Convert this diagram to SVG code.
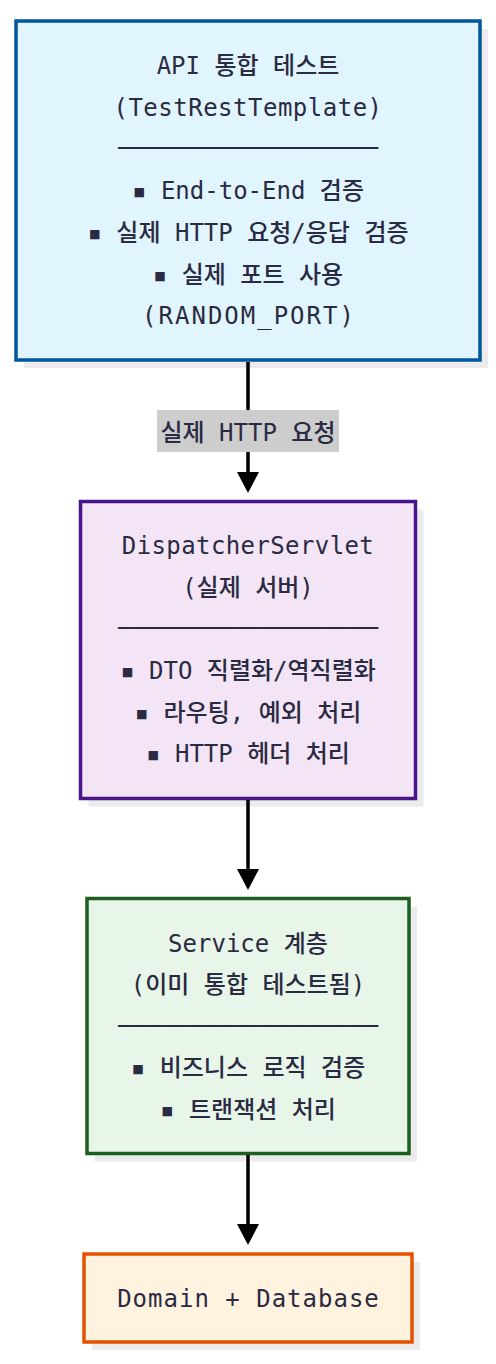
<svg xmlns="http://www.w3.org/2000/svg" width="496" height="1364" viewBox="0 0 496 1364">
<defs>
<style>
text{font-family:'DejaVu Sans Mono','Noto Sans CJK KR',monospace;font-size:24px;font-weight:500;fill:#2a2a42;text-anchor:middle;}
.div{font-weight:400;}
.shadow{fill:#ebebeb;}
.edge{stroke:#000;stroke-width:3.5;fill:none;}
.lbl{fill:#cdcdcd;}
</style>
<marker id="arr" markerWidth="26" markerHeight="22" refX="0" refY="11" orient="auto" markerUnits="userSpaceOnUse" viewBox="0 0 26 22">
<path d="M0,0 L0,22 L21,11 Z" fill="#000"/>
</marker>
</defs>
<rect width="496" height="1364" fill="#ffffff"/>

<g id="node-api">
<rect class="shadow" x="24" y="29" width="464" height="339"/>
<rect x="16" y="21" width="464" height="339" fill="#e1f5fe" stroke="#01579b" stroke-width="3.5"/>
<text x="248" y="74">API 통합 테스트</text>
<text x="248" y="116" letter-spacing="0.5">(TestRestTemplate)</text>
<text class="div" x="248" y="156">──────────────────</text>
<text x="248" y="199">▪ End-to-End 검증</text>
<text x="248" y="241">▪ 실제 HTTP 요청/응답 검증</text>
<text x="248" y="283">▪ 실제 포트 사용</text>
<text x="249" y="324" letter-spacing="2">(RANDOM_PORT)</text>
</g>

<g id="node-dispatcher">
<rect class="shadow" x="88.5" y="509.5" width="335" height="297"/>
<rect x="80.5" y="501.5" width="335" height="297" fill="#f3e5f5" stroke="#4a148c" stroke-width="3.5"/>
<text x="248" y="554" letter-spacing="0.4">DispatcherServlet</text>
<text x="248" y="596">(실제 서버)</text>
<text class="div" x="248" y="636">──────────────────</text>
<text x="248" y="679">▪ DTO 직렬화/역직렬화</text>
<text x="248" y="721">▪ 라우팅, 예외 처리</text>
<text x="248" y="762">▪ HTTP 헤더 처리</text>
</g>

<g id="node-service">
<rect class="shadow" x="95" y="906.5" width="322" height="255"/>
<rect x="87" y="898.5" width="322" height="255" fill="#e8f5e9" stroke="#1b5e20" stroke-width="3.5"/>
<text x="248" y="952">Service 계층</text>
<text x="248" y="993">(이미 통합 테스트됨)</text>
<text class="div" x="248" y="1034">──────────────────</text>
<text x="248" y="1076">▪ 비즈니스 로직 검증</text>
<text x="248" y="1118">▪ 트랜잭션 처리</text>
</g>

<g id="node-domain">
<rect class="shadow" x="92" y="1262" width="328" height="88"/>
<rect x="84" y="1254" width="328" height="88" fill="#fff3e0" stroke="#e65100" stroke-width="3.5"/>
<text x="248.5" y="1307" letter-spacing="1">Domain + Database</text>
</g>

<g id="connectors">
<line class="edge" x1="248" y1="362" x2="248" y2="472" marker-end="url(#arr)"/>
<rect class="lbl" x="157" y="410" width="182" height="42"/>
<text x="248" y="441">실제 HTTP 요청</text>
<line class="edge" x1="248" y1="800" x2="248" y2="869" marker-end="url(#arr)"/>
<line class="edge" x1="248" y1="1155" x2="248" y2="1224" marker-end="url(#arr)"/>
</g>
</svg>
